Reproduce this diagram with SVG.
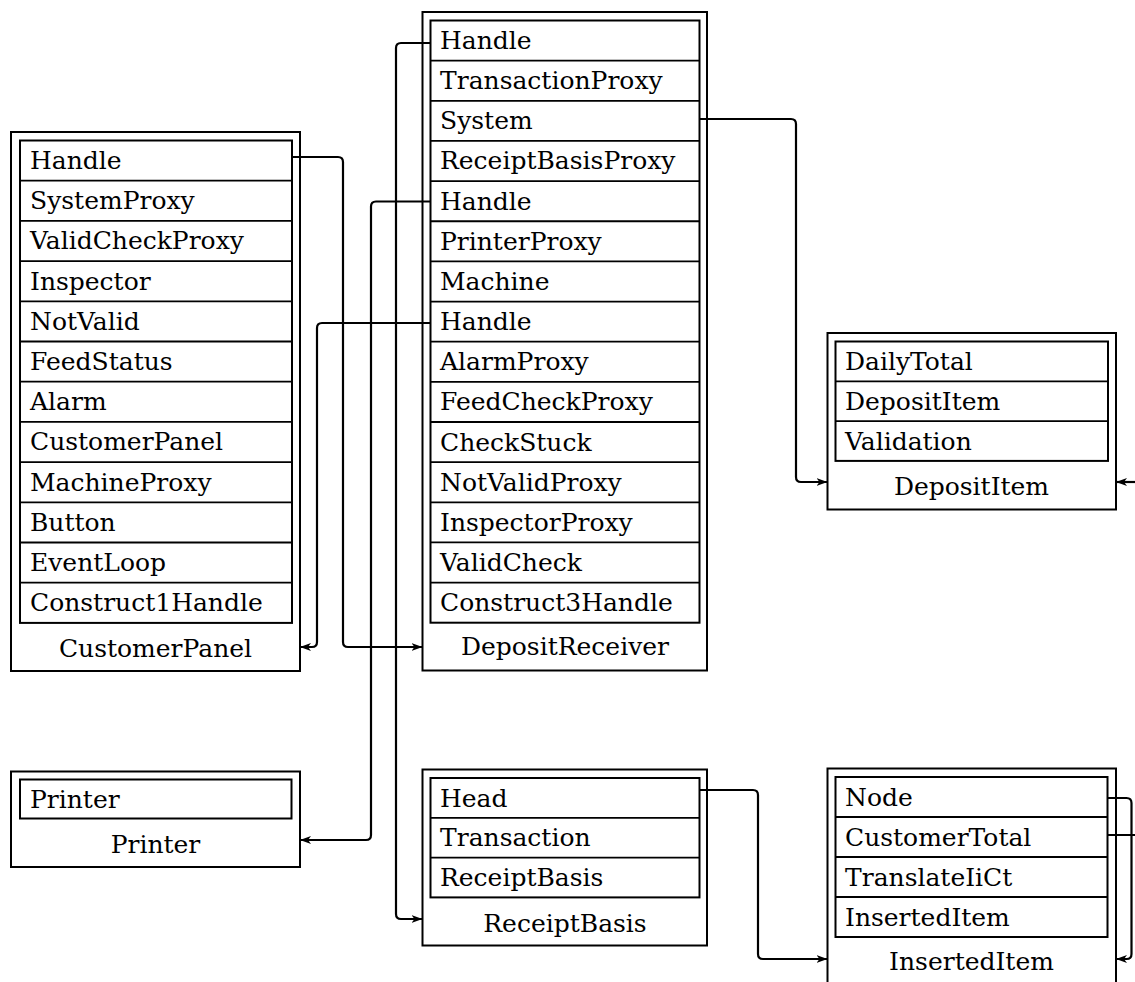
<svg xmlns="http://www.w3.org/2000/svg" width="1135" height="982" viewBox="0 0 1135 982">
<style>
.bg{fill:#fff}
.outer,.inner{fill:none;stroke:#000;stroke-width:2}
.sep{stroke:#000;stroke-width:1.8}
.t{font-family:"DejaVu Serif","Liberation Serif",serif;font-size:25px;fill:#000}
.lbl{font-family:"DejaVu Serif","Liberation Serif",serif;font-size:25px;fill:#000;text-anchor:middle}
.conn{fill:none;stroke:#000;stroke-width:2.2;marker-end:url(#ah)}
</style>
<defs>
<marker id="ah" markerUnits="userSpaceOnUse" markerWidth="12" markerHeight="9" refX="11" refY="4.5" orient="auto">
<path d="M0,0.5 L11,4.5 L0,8.5 L3,4.5 z" fill="#000"/>
</marker>
</defs>
<rect class="bg" x="0" y="0" width="1135" height="982"/>

<g id="CustomerPanel">
<rect class="outer" x="11" y="132" width="289" height="539"/>
<rect class="inner" x="20" y="140.5" width="272" height="482.4"/>
<path class="sep" d="M20,180.7H292M20,220.9H292M20,261.1H292M20,301.3H292M20,341.5H292M20,381.7H292M20,421.9H292M20,462.1H292M20,502.3H292M20,542.5H292M20,582.7H292"/>
<text class="t" x="30" y="169">Handle</text>
<text class="t" x="30" y="209.2">SystemProxy</text>
<text class="t" x="30" y="249.4">ValidCheckProxy</text>
<text class="t" x="30" y="289.6">Inspector</text>
<text class="t" x="30" y="329.8">NotValid</text>
<text class="t" x="30" y="370">FeedStatus</text>
<text class="t" x="30" y="410.2">Alarm</text>
<text class="t" x="30" y="450.4">CustomerPanel</text>
<text class="t" x="30" y="490.6">MachineProxy</text>
<text class="t" x="30" y="530.8">Button</text>
<text class="t" x="30" y="571">EventLoop</text>
<text class="t" x="30" y="611.2">Construct1Handle</text>
<text class="lbl" x="155.5" y="657">CustomerPanel</text>
</g>

<g id="DepositReceiver">
<rect class="outer" x="422.5" y="12" width="284.5" height="658.5"/>
<rect class="inner" x="430.5" y="20.5" width="269" height="602.2"/>
<path class="sep" d="M430.5,60.65H699.5M430.5,100.8H699.5M430.5,140.95H699.5M430.5,181.1H699.5M430.5,221.25H699.5M430.5,261.4H699.5M430.5,301.55H699.5M430.5,341.7H699.5M430.5,381.85H699.5M430.5,422H699.5M430.5,462.15H699.5M430.5,502.3H699.5M430.5,542.45H699.5M430.5,582.6H699.5"/>
<text class="t" x="440" y="49">Handle</text>
<text class="t" x="440" y="89.15">TransactionProxy</text>
<text class="t" x="440" y="129.3">System</text>
<text class="t" x="440" y="169.45">ReceiptBasisProxy</text>
<text class="t" x="440" y="209.6">Handle</text>
<text class="t" x="440" y="249.75">PrinterProxy</text>
<text class="t" x="440" y="289.9">Machine</text>
<text class="t" x="440" y="330.05">Handle</text>
<text class="t" x="440" y="370.2">AlarmProxy</text>
<text class="t" x="440" y="410.35">FeedCheckProxy</text>
<text class="t" x="440" y="450.5">CheckStuck</text>
<text class="t" x="440" y="490.65">NotValidProxy</text>
<text class="t" x="440" y="530.8">InspectorProxy</text>
<text class="t" x="440" y="570.95">ValidCheck</text>
<text class="t" x="440" y="611.1">Construct3Handle</text>
<text class="lbl" x="565" y="655">DepositReceiver</text>
</g>

<g id="DepositItem">
<rect class="outer" x="827.5" y="333" width="288.5" height="176.5"/>
<rect class="inner" x="835.5" y="341.5" width="272.5" height="119.4"/>
<path class="sep" d="M835.5,381.3H1108M835.5,421.1H1108"/>
<text class="t" x="845" y="370">DailyTotal</text>
<text class="t" x="845" y="409.8">DepositItem</text>
<text class="t" x="845" y="449.6">Validation</text>
<text class="lbl" x="971.5" y="495">DepositItem</text>
</g>

<g id="Printer">
<rect class="outer" x="11" y="771.5" width="289" height="95.5"/>
<rect class="inner" x="20" y="779.5" width="271.5" height="39"/>
<text class="t" x="30" y="808">Printer</text>
<text class="lbl" x="155.5" y="853">Printer</text>
</g>

<g id="ReceiptBasis">
<rect class="outer" x="422.5" y="769.5" width="284.5" height="176"/>
<rect class="inner" x="430.5" y="778" width="269" height="119.4"/>
<path class="sep" d="M430.5,817.8H699.5M430.5,857.6H699.5"/>
<text class="t" x="440" y="806.5">Head</text>
<text class="t" x="440" y="846.3">Transaction</text>
<text class="t" x="440" y="886.1">ReceiptBasis</text>
<text class="lbl" x="565" y="932">ReceiptBasis</text>
</g>

<g id="InsertedItem">
<rect class="outer" x="827.5" y="768.5" width="288.5" height="230"/>
<rect class="inner" x="835.5" y="777" width="272" height="160"/>
<path class="sep" d="M835.5,817H1107.5M835.5,857H1107.5M835.5,897H1107.5"/>
<text class="t" x="845" y="805.5">Node</text>
<text class="t" x="845" y="845.5">CustomerTotal</text>
<text class="t" x="845" y="885.5">TranslateIiCt</text>
<text class="t" x="845" y="925.5">InsertedItem</text>
<text class="lbl" x="971.5" y="970">InsertedItem</text>
</g>

<g id="connectors">
<path class="conn" d="M292,157 H338 Q343,157 343,162 V642 Q343,647 348,647 H422.5"/>
<path class="conn" d="M430.5,43 H401 Q396,43 396,48 V914 Q396,919 401,919 H422.5"/>
<path class="conn" d="M430.5,201.5 H376 Q371,201.5 371,206.5 V835 Q371,840 366,840 H300"/>
<path class="conn" d="M430.5,323 H322 Q317,323 317,328 V642 Q317,647 312,647 H300"/>
<path class="conn" d="M699.5,119 H791 Q796,119 796,124 V477 Q796,482 801,482 H827.5"/>
<path class="conn" d="M699.5,790 H753 Q758,790 758,795 V954 Q758,959 763,959 H827.5"/>
<path class="conn" d="M1107.5,798 H1126.5 Q1131.5,798 1131.5,803 V954 Q1131.5,959 1126.5,959 H1116"/>
<path class="conn" style="marker-end:none" d="M1107.5,835 H1140"/>
<path class="conn" d="M1140,482 H1116"/>
</g>
</svg>
